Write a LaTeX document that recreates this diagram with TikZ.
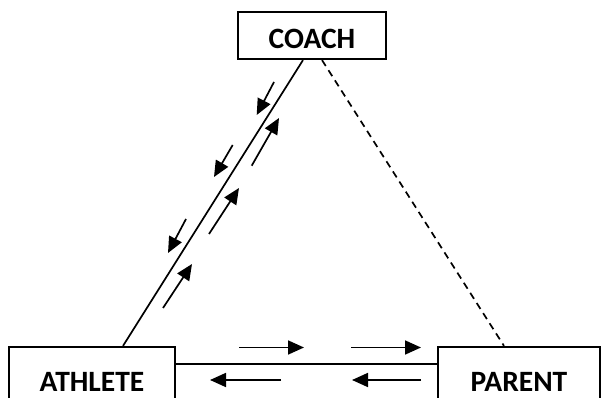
\documentclass[tikz,border=0pt]{standalone}
\usepackage{fontspec}
\setmainfont{Carlito}
\usetikzlibrary{arrows.meta,calc}
\begin{document}
\begin{tikzpicture}[x=1pt,y=-1pt,
  box/.style={draw,line width=2.2pt,inner sep=0pt,font=\fontsize{29.5}{31}\selectfont\bfseries},
  link/.style={line width=1.7pt},
  flow/.style={line width=1.7pt,-{Triangle[length=16pt,width=14pt]}}]
\useasboundingbox (0,0) rectangle (605,398);
\clip (0,0) rectangle (605,398);
\fill[white] (0,0) rectangle (605,398);
\node[box,minimum width=148pt,minimum height=47pt,text height=26pt,text depth=0pt] (coach) at (312,35.5) {COACH};
\node[box,minimum width=166pt,minimum height=72pt,text height=17pt,text depth=0pt] (athlete) at (92,383) {ATHLETE};
\node[box,minimum width=162pt,minimum height=72pt,text height=17pt,text depth=0pt] (parent) at (519,383) {PARENT};
\draw[link] ($(coach.south)+(-9,0)$) -- ($(athlete.north)+(31,0)$);
\draw[link,dash pattern=on 7pt off 5pt] ($(coach.south)+(10,0)$) -- ($(parent.north)+(-15,0)$);
\draw[link] ($(athlete.east)+(0,-19)$) -- ($(parent.west)+(0,-19)$);
% diagonal arrows
\draw[flow] (274,82) -- (256.7,115);
\draw[flow] (251.7,165.7) -- (279,118);
\draw[flow] (232.7,145) -- (214,177);
\draw[flow] (209,234) -- (239,188);
\draw[flow] (186,219) -- (168,253);
\draw[flow] (163,308) -- (192,264);
% horizontal arrows
\draw[flow] (239,347.5) -- (304,347.5);
\draw[flow] (351,347.5) -- (421,347.5);
\draw[flow] (281,380) -- (210,380);
\draw[flow] (421,380) -- (352,380);
\end{tikzpicture}
\end{document}
